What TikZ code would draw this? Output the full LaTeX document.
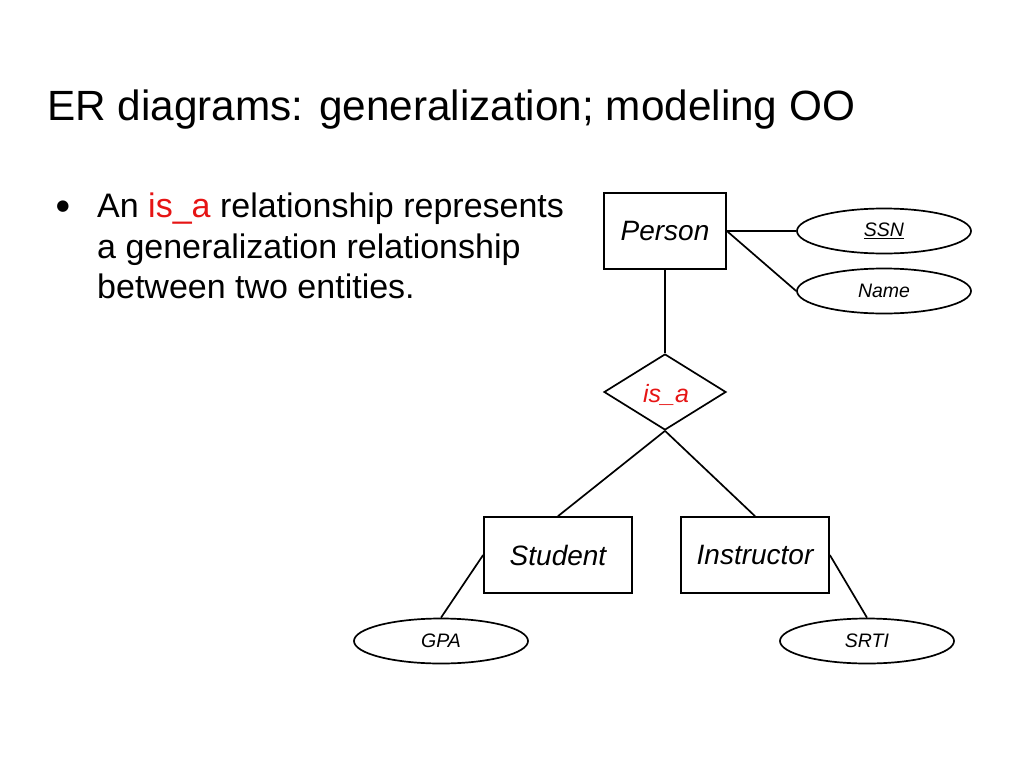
\documentclass[tikz,border=0pt]{standalone}
\usepackage{fontspec}
\setmainfont{Liberation Sans}
\newfontfamily\symfont{DejaVu Sans}
\usetikzlibrary{shapes.geometric}
\definecolor{isared}{RGB}{230,20,20}
\begin{document}
\begin{tikzpicture}[x=1pt,y=-1pt,
  line/.style={line width=1.7pt},
  entity/.style={draw,line width=1.7pt,minimum width=122pt,minimum height=76pt,font=\fontsize{28}{32}\selectfont\itshape,inner sep=0pt},
  attr/.style={draw,ellipse,line width=1.7pt,minimum width=174pt,minimum height=45pt,font=\fontsize{19.5}{23}\selectfont\itshape,inner sep=0pt},
  body/.style={anchor=base west,inner sep=0pt,font=\fontsize{34}{40}\selectfont}
]
\useasboundingbox (0,0) rectangle (1024,768);
\node[anchor=base west,inner sep=0pt,font=\fontsize{42.3}{48}\selectfont] (title) at (47,120) {ER diagrams: generalization; modeling OO};
\node[anchor=center,inner sep=0pt,font=\fontsize{15}{18}\symfont] (bul) at (63,207) {●};
\node[body] (l1) at (97,217) {An \textcolor{isared}{is\_a} relationship represents};
\node[body] (l2) at (97,258) {a generalization relationship};
\node[body] (l3) at (97,298) {between two entities.};

\node[entity] (person) at (665,231) {Person};
\node[attr] (ssn) at (884,231) {\underline{SSN}};
\node[attr] (name) at (884,291) {Name};
\node[draw,diamond,line width=1.7pt,minimum width=122pt,minimum height=76pt,inner sep=0pt] (isa) at (665,392) {};
\node[font=\fontsize{25}{28}\selectfont\itshape,text=isared,inner sep=0pt] (isatext) at (666,395) {is\_a};
\node[entity,minimum width=148pt] (student) at (558,555) {Student};
\node[entity,minimum width=148pt] (instr) at (755,555) {Instructor};
\node[attr] (gpa) at (441,641) {GPA};
\node[attr] (srti) at (867,641) {SRTI};

\draw[line] (person.east) -- (ssn.west);
\draw[line] (person.east) -- (name.west);
\draw[line] (person.south) -- (isa.north);
\draw[line] (isa.south) -- (student.north);
\draw[line] (isa.south) -- (instr.north);
\draw[line] (student.west) -- (gpa.north);
\draw[line] (instr.east) -- (srti.north);
\end{tikzpicture}
\end{document}
